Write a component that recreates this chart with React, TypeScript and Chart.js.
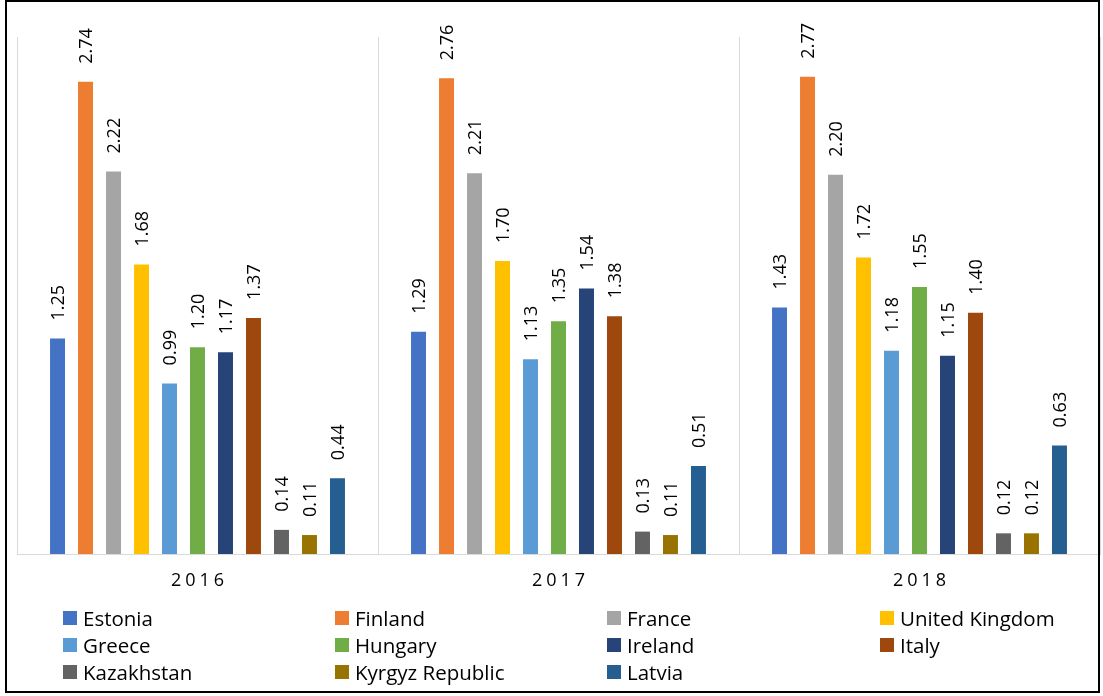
import React, { useEffect, useRef } from "react";
import { Chart, registerables } from "chart.js";

Chart.register(...registerables);

const years = ["2016", "2017", "2018"];

const estonia = [1.25, 1.29, 1.43];
const finland = [2.74, 2.76, 2.77];
const france = [2.22, 2.21, 2.2];
const unitedKingdom = [1.68, 1.7, 1.72];
const greece = [0.99, 1.13, 1.18];
const hungary = [1.2, 1.35, 1.55];
const ireland = [1.17, 1.54, 1.15];
const italy = [1.37, 1.38, 1.4];
const kazakhstan = [0.14, 0.13, 0.12];
const kyrgyzRepublic = [0.11, 0.11, 0.12];
const latvia = [0.44, 0.51, 0.63];

const seriesNames = [
  "Estonia",
  "Finland",
  "France",
  "United Kingdom",
  "Greece",
  "Hungary",
  "Ireland",
  "Italy",
  "Kazakhstan",
  "Kyrgyz Republic",
  "Latvia",
];
const seriesValues = [
  estonia,
  finland,
  france,
  unitedKingdom,
  greece,
  hungary,
  ireland,
  italy,
  kazakhstan,
  kyrgyzRepublic,
  latvia,
];
const seriesColors = [
  "#4472C4",
  "#ED7D31",
  "#A5A5A5",
  "#FFC000",
  "#5B9BD5",
  "#70AD47",
  "#264478",
  "#9E480E",
  "#636363",
  "#997300",
  "#255E91",
];

const FONT = '"Open Sans", "Noto Sans", sans-serif';
const TEXT_COLOR = "#000";

const labelPlugin = {
  id: "barLabels",
  afterDatasetsDraw(chart: any) {
    const ctx = chart.ctx as CanvasRenderingContext2D;
    ctx.save();
    ctx.font = `18px ${FONT}`;
    ctx.fillStyle = TEXT_COLOR;
    ctx.textAlign = "left";
    ctx.textBaseline = "middle";
    chart.data.datasets.forEach((ds: any, i: number) => {
      const meta = chart.getDatasetMeta(i);
      meta.data.forEach((el: any, j: number) => {
        const v = ds.data[j] as number;
        ctx.save();
        ctx.translate(el.x + 1, el.y - 18);
        ctx.rotate(-Math.PI / 2);
        ctx.fillText(v.toFixed(2), 0, 0);
        ctx.restore();
      });
    });
    const xs = chart.scales.x;
    ctx.font = `18px ${FONT}`;
    (ctx as any).letterSpacing = "4px";
    ctx.textAlign = "left";
    ctx.textBaseline = "middle";
    chart.data.labels.forEach((lab: string, j: number) => {
      const w = ctx.measureText(lab).width - 4;
      ctx.fillText(lab, xs.getPixelForValue(j) - w / 2, chart.chartArea.bottom + 27);
    });
    ctx.restore();
  },
};

export default function App() {
  const canvasRef = useRef<HTMLCanvasElement | null>(null);

  useEffect(() => {
    const canvas = canvasRef.current;
    if (!canvas) return;
    const chart = new Chart(canvas, {
      type: "bar",
      data: {
        labels: years,
        datasets: seriesNames.map((name, i) => ({
          label: name,
          data: seriesValues[i],
          backgroundColor: seriesColors[i],
          borderWidth: 0,
          categoryPercentage: 0.853,
          barPercentage: 0.535,
        })),
      },
      options: {
        animation: false,
        responsive: false,
        maintainAspectRatio: false,
        layout: { padding: { left: 17, right: 3, top: 37, bottom: 142 } },
        plugins: {
          legend: { display: false },
          tooltip: { enabled: false },
        },
        scales: {
          x: {
            display: true,
            offset: true,
            grid: {
              display: true,
              offset: true,
              color: "#D9D9D9",
              lineWidth: 1,
              drawTicks: false,
            },
            border: { display: true, color: "#D9D9D9", width: 1 },
            ticks: { display: false },
          },
          y: {
            display: false,
            min: 0,
            max: 3,
          },
        },
      },
      plugins: [labelPlugin],
    });
    return () => chart.destroy();
  }, []);

  const colLefts = [63, 335, 607, 880];
  const rowCenters = [618, 645, 672];

  return (
    <div style={{ position: "absolute", left: 0, top: 0, width: 1103, height: 696, background: "#fff" }}>
      <canvas ref={canvasRef} width={1103} height={696} style={{ position: "absolute", left: 0, top: 0 }} />
      {seriesNames.map((name, i) => {
        const col = i % 4;
        const row = Math.floor(i / 4);
        return (
          <div
            key={name}
            style={{
              position: "absolute",
              left: colLefts[col],
              top: rowCenters[row] - 14,
              height: 28,
              display: "flex",
              alignItems: "center",
              fontFamily: FONT,
              fontSize: 20.5,
              color: TEXT_COLOR,
              whiteSpace: "nowrap",
            }}
          >
            <span
              style={{
                display: "inline-block",
                width: 14,
                height: 14,
                background: seriesColors[i],
                marginRight: 6,
              }}
            />
            <span>{name}</span>
          </div>
        );
      })}
      <div
        style={{
          position: "absolute",
          left: 5,
          top: 0,
          width: 1095,
          height: 693,
          border: "2px solid #000",
          boxSizing: "border-box",
          pointerEvents: "none",
        }}
      />
    </div>
  );
}
